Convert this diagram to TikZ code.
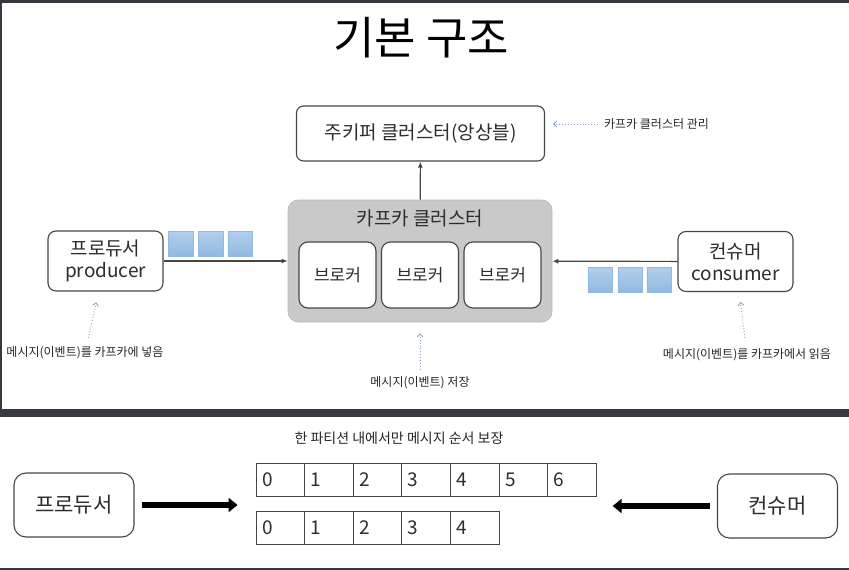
\documentclass[tikz,border=0pt]{standalone}
\usepackage{fontspec}
\setmainfont{Noto Sans CJK KR}
\usepackage{tikz}
\usetikzlibrary{arrows.meta}
\definecolor{framegray}{RGB}{54,58,63}
\definecolor{edgegray}{RGB}{70,70,70}
\definecolor{clustergray}{RGB}{201,201,201}
\definecolor{msgtop}{RGB}{178,206,236}
\definecolor{msgbottom}{RGB}{146,186,226}
\definecolor{noteblue}{RGB}{140,165,210}
\definecolor{textgray}{RGB}{45,45,45}

\begin{document}
\begin{tikzpicture}[x=1pt, y=-1pt,
  round box/.style={draw=edgegray, line width=1.1pt, fill=white, rounded corners=8pt, text=textgray, align=center, inner sep=0pt},
  broker box/.style={round box, minimum width=77pt, minimum height=66pt, rounded corners=9pt, font=\fontsize{17}{20}\selectfont},
  end box/.style={round box, minimum width=115pt, minimum height=60pt, font=\fontsize{19}{22}\selectfont},
  low box/.style={round box, minimum width=120pt, minimum height=64pt, rounded corners=12pt, font=\fontsize{21}{24}\selectfont},
  msg node/.style={draw=msgbottom, top color=msgtop, bottom color=msgbottom, minimum size=24.5pt, inner sep=0pt},
  note/.style={inner sep=1pt, font=\fontsize{12}{14}\selectfont, text=black!85},
  note arrow/.style={draw=noteblue, dotted, line width=0.9pt, -{Straight Barb[length=3pt,width=6pt]}},
  cell/.style={draw=edgegray, line width=0.9pt, minimum height=33pt, text width=36.6pt, inner xsep=6pt, inner ysep=0pt, align=left, font=\fontsize{19}{21}\selectfont, text=textgray},
  flow/.style={draw=edgegray, line width=1.2pt, -{Latex[length=6pt,width=5pt]}},
  fat arrow/.style={draw=black, line width=6pt, -{Triangle[length=9pt,width=14pt]}}]
\useasboundingbox (0,0) rectangle (849,570);
\fill[framegray] (0,0) rectangle (849,3);
\fill[framegray] (0,0) rectangle (2,409);
\fill[framegray] (0,409) rectangle (849,417);
\fill[framegray] (0,568) rectangle (849,570);

\node[font=\fontsize{45}{50}\selectfont, text=black] (title) at (421,38) {기본 구조};

\node[round box, minimum width=248pt, minimum height=55pt, rounded corners=7pt, font=\fontsize{19}{22}\selectfont] (zk) at (420.5,133.5) {주키퍼 클러스터(앙상블)};
\node[note] (zknote) at (656.5,124) {카프카 클러스터 관리};

\node[fill=clustergray, draw=clustergray!92!black, line width=0.6pt, rounded corners=10pt, minimum width=264pt, minimum height=122pt] (cluster) at (420,261) {};
\node[font=\fontsize{19}{22}\selectfont, text=textgray] (clabel) at (420,218) {카프카 클러스터};
\node[broker box] (broker1) at (337.5,275) {브로커};
\node[broker box] (broker2) at (420,275) {브로커};
\node[broker box] (broker3) at (502.5,275) {브로커};
\node[note] (snote) at (420,383) {메시지(이벤트) 저장};

\node[end box] (producer) at (105.5,261) {프로듀서\\producer};
\node[msg node] (pmsg1) at (180.5,243.5) {};
\node[msg node] (pmsg2) at (210.5,243.5) {};
\node[msg node] (pmsg3) at (240,243.5) {};
\node[note] (pnote) at (85,353) {메시지(이벤트)를 카프카에 넣음};

\node[end box] (consumer) at (735.5,261.5) {컨슈머\\consumer};
\node[msg node] (cmsg1) at (600,279.5) {};
\node[msg node] (cmsg2) at (630,279.5) {};
\node[msg node] (cmsg3) at (659,279.5) {};
\node[note] (cnote) at (747,355) {메시지(이벤트)를 카프카에서 읽음};

\draw[flow] (cluster) edge (zk)
  (producer) edge (cluster)
  (consumer) edge (cluster);
\draw[note arrow, shorten <=5pt, shorten >=8pt] (zknote.west) -- (zknote.west -| zk.east);
\draw[note arrow, shorten <=6pt, shorten >=11pt] (snote) -- (cluster);
\draw[note arrow, shorten <=8pt, shorten >=11pt] (pnote) -- (producer);
\draw[note arrow, shorten <=10pt, shorten >=10pt] (cnote) -- (consumer);

\node[note, font=\fontsize{14}{16}\selectfont] (pnote2) at (399,438) {한 파티션 내에서만 메시지 순서 보장};
\node[low box] (producer2) at (74,505) {프로듀서};
\node[low box] (consumer2) at (777.5,506) {컨슈머};
\node[cell] (a0) at (280.3,479.5) {0};
\node[cell] (a1) at (328.9,479.5) {1};
\node[cell] (a2) at (377.5,479.5) {2};
\node[cell] (a3) at (426.1,479.5) {3};
\node[cell] (a4) at (474.7,479.5) {4};
\node[cell] (a5) at (523.3,479.5) {5};
\node[cell] (a6) at (571.9,479.5) {6};
\node[cell] (b0) at (280.3,528) {0};
\node[cell] (b1) at (328.9,528) {1};
\node[cell] (b2) at (377.5,528) {2};
\node[cell] (b3) at (426.1,528) {3};
\node[cell] (b4) at (474.7,528) {4};
\draw[fat arrow, shorten <=7pt, shorten >=18pt] (producer2.east) -- (producer2.east -| a0.west);
\draw[fat arrow, shorten <=7pt, shorten >=16pt] (consumer2.west) -- (consumer2.west -| a6.east);
\end{tikzpicture}
\end{document}
